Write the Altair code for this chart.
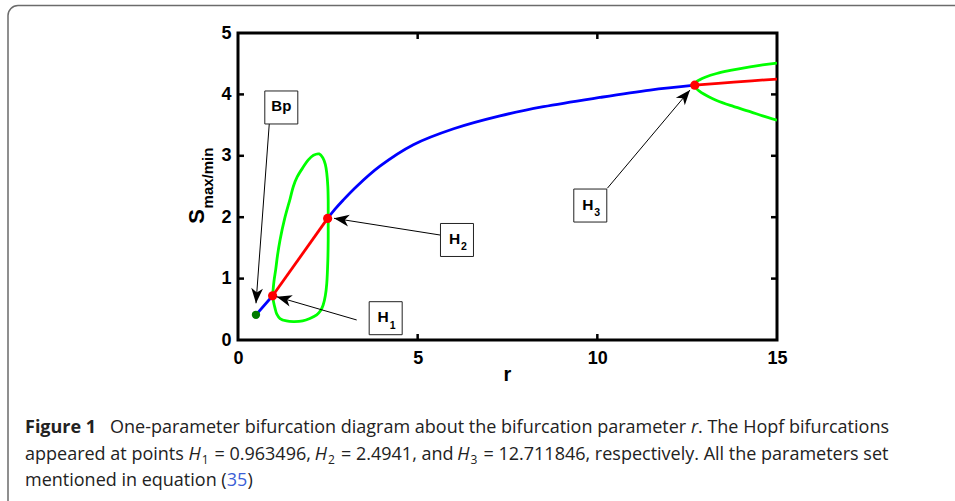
import math
import altair as alt
import pandas as pd

# ---------------- data ----------------
bp_r = [0.50]
bp_s = [0.41]
hopf_r = [0.963496, 2.4941, 12.711846]
hopf_s = [0.72, 1.98, 4.15]

# equilibrium branch pieces
stable_low_r = [0.50, 0.963496]
stable_low_s = [0.41, 0.72]
unstable_mid_r = [0.963496, 2.4941]
unstable_mid_s = [0.72, 1.98]
stable_high_r = [2.4941, 2.7, 2.93, 3.3, 3.95, 4.88, 6.0, 7.29, 8.5, 10.07, 11.47, 12.711846]
stable_high_s = [1.98, 2.13, 2.28, 2.50, 2.83, 3.18, 3.44, 3.65, 3.80, 3.95, 4.07, 4.15]
unstable_end_r = [12.711846, 13.8, 15.0]
unstable_end_s = [4.15, 4.20, 4.25]

# limit cycle between H1 and H2 (max branch then min branch)
loop_r = [0.963496, 1.0, 1.05, 1.10, 1.17, 1.30, 1.45, 1.54, 1.65, 1.82, 1.95, 2.10, 2.26, 2.36,
          2.43, 2.47, 2.50, 2.51, 2.51, 2.51, 2.50, 2.47, 2.43, 2.37, 2.30, 2.19, 2.0, 1.80,
          1.54, 1.35, 1.17, 1.08, 1.03, 0.99, 0.963496]
loop_s = [0.72, 0.95, 1.15, 1.38, 1.63, 1.98, 2.30, 2.50, 2.66, 2.82, 2.93, 3.01, 3.03, 2.97,
          2.86, 2.72, 2.50, 2.28, 1.98, 1.63, 1.30, 0.92, 0.72, 0.57, 0.48, 0.41, 0.35, 0.31,
          0.30, 0.31, 0.35, 0.42, 0.52, 0.62, 0.72]

# limit cycle born at H3
cyc_max_r = [12.711846, 12.75, 12.85, 13.0, 13.32, 13.7, 14.25, 14.6, 15.0]
cyc_max_s = [4.15, 4.20, 4.24, 4.28, 4.34, 4.39, 4.45, 4.48, 4.51]
cyc_min_r = [12.711846, 12.75, 12.85, 12.95, 13.1, 13.32, 13.7, 14.25, 14.6, 15.0]
cyc_min_s = [4.15, 4.10, 4.05, 4.01, 3.96, 3.90, 3.82, 3.72, 3.65, 3.58]

# annotations
ann_main = ["Bp", "H", "H", "H"]
ann_sub = ["", "1", "2", "3"]
box_r = [1.205, 4.110, 6.094, 9.804]
box_s = [3.787, 0.355, 1.629, 2.190]
arrow_from_r = [0.871, 3.303, 5.622, 10.278]
arrow_from_s = [3.529, 0.326, 1.710, 2.471]
arrow_to_r = [0.501, 1.077, 2.672, 12.579]
arrow_to_s = [0.598, 0.705, 1.982, 4.072]

x_ticks = [0, 5, 10, 15]
y_ticks = [0, 1, 2, 3, 4, 5]
x_inner_ticks = [5, 10]
y_inner_ticks = [1, 2, 3, 4]

# ---------------- layout ----------------
W, H = 539, 307
LEFT, TOP = 238, 33
AXFONT = "Liberation Sans"
CAPFONT = "Open Sans"

xscale = alt.Scale(domain=[0, 15], nice=False, zero=False)
yscale = alt.Scale(domain=[0, 5], nice=False, zero=False)
xaxis = alt.Axis(values=x_ticks, domain=False, ticks=False, tickSize=0, grid=False, title=None,
                 labelFont=AXFONT, labelFontSize=18, labelFontWeight="bold", labelColor="black",
                 labelPadding=9, labelFlush=False, labelOverlap=False)
yaxis = alt.Axis(values=y_ticks, domain=False, ticks=False, tickSize=0, grid=False, title=None,
                 labelFont=AXFONT, labelFontSize=18, labelFontWeight="bold", labelColor="black",
                 labelPadding=7, labelFlush=False, labelOverlap=False)
X = alt.X("r:Q", scale=xscale, axis=xaxis)
Y = alt.Y("s:Q", scale=yscale, axis=yaxis)

rows = []
def add(seg, col, rs, ss):
    for i, (a, b) in enumerate(zip(rs, ss)):
        rows.append({"seg": seg, "col": col, "i": i, "r": a, "s": b})

add("loop", "#00ff00", loop_r, loop_s)
add("cmax", "#00ff00", cyc_max_r, cyc_max_s)
add("cmin", "#00ff00", cyc_min_r, cyc_min_s)
add("st1", "#0000ff", stable_low_r, stable_low_s)
add("un1", "#ff0000", unstable_mid_r, unstable_mid_s)
add("st2", "#0000ff", stable_high_r, stable_high_s)
add("un2", "#ff0000", unstable_end_r, unstable_end_s)
lines_df = pd.DataFrame(rows)

lines = alt.Chart(lines_df).mark_line(strokeWidth=2.8, interpolate="catmull-rom", clip=True).encode(
    x=X, y=Y, detail="seg:N", order="i:Q", color=alt.Color("col:N", scale=None)
)

hopf_pts = alt.Chart(pd.DataFrame({"r": hopf_r, "s": hopf_s})).mark_circle(
    size=85, color="#ff0000", opacity=1).encode(x=X, y=Y)
bp_pts = alt.Chart(pd.DataFrame({"r": bp_r, "s": bp_s})).mark_circle(
    size=70, color="#007a00", opacity=1).encode(x=X, y=Y)

# arrows
pxr, pxs = W / 15.0, H / 5.0
angles = [math.degrees(math.atan2((tr - fr) * pxr, (ts - fs) * pxs)) % 360
          for fr, fs, tr, ts in zip(arrow_from_r, arrow_from_s, arrow_to_r, arrow_to_s)]
arrow_df = pd.DataFrame({"r": arrow_from_r, "s": arrow_from_s, "r2": arrow_to_r,
                         "s2": arrow_to_s, "ang": angles})
arrow_lines = alt.Chart(arrow_df).mark_rule(color="black", strokeWidth=1).encode(
    x=X, y=Y, x2="r2:Q", y2="s2:Q")
heads = alt.Chart(arrow_df).mark_point(
    shape="M0,0L-0.7,1.8L0,1.3L0.7,1.8Z", filled=True, color="black", size=280, opacity=1
).encode(x=alt.X("r2:Q", scale=xscale, axis=xaxis), y=alt.Y("s2:Q", scale=yscale, axis=yaxis),
         angle=alt.Angle("ang:Q", scale=None))

box_df = pd.DataFrame({"r": box_r, "s": box_s, "m": ann_main, "sub": ann_sub})
boxes = alt.Chart(box_df).mark_point(shape="square", size=1089, filled=True, fill="white",
                                     stroke="#222", strokeWidth=1, opacity=1).encode(x=X, y=Y)
bp_txt = alt.Chart(box_df.iloc[:1]).mark_text(font=AXFONT, fontWeight="bold", fontSize=15,
                                              align="center", baseline="alphabetic", dy=4,
                                              color="black").encode(x=X, y=Y, text="m:N")
h_txt = alt.Chart(box_df.iloc[1:]).mark_text(font=AXFONT, fontWeight="bold", fontSize=15.5,
                                             align="center", baseline="alphabetic", dx=-2.5, dy=4,
                                             color="black").encode(x=X, y=Y, text="m:N")
h_sub = alt.Chart(box_df.iloc[1:]).mark_text(font=AXFONT, fontWeight="bold", fontSize=10.5,
                                             align="center", baseline="alphabetic", dx=7, dy=10.5,
                                             color="black").encode(x=X, y=Y, text="sub:N")

# inner ticks (box style)
xt = pd.DataFrame({"r": x_inner_ticks})
yt = pd.DataFrame({"s": y_inner_ticks})
tk = dict(color="black", strokeWidth=2.5)
ticks = [
    alt.Chart(xt).mark_rule(**tk).encode(x=X, y=alt.value(H), y2=alt.value(H - 6)),
    alt.Chart(xt).mark_rule(**tk).encode(x=X, y=alt.value(0), y2=alt.value(6)),
    alt.Chart(yt).mark_rule(**tk).encode(y=Y, x=alt.value(0), x2=alt.value(6)),
    alt.Chart(yt).mark_rule(**tk).encode(y=Y, x=alt.value(W - 6), x2=alt.value(W)),
]

one = pd.DataFrame({"k": [0]})

def txt(t, x, y, size, weight="normal", style="normal", font=AXFONT, color="black",
        angle=0, align="left"):
    kw = dict(text=t, font=font, fontSize=size, fontWeight=weight, fontStyle=style,
              color=color, align=align, baseline="alphabetic")
    if angle:
        kw["angle"] = angle
    return alt.Chart(one).mark_text(**kw).encode(x=alt.value(x), y=alt.value(y))

titles = [
    txt("S", 204 - LEFT, 216.5 - TOP, 22, weight="bold", angle=270, align="center"),
    txt("max/min", 213 - LEFT, 178 - TOP, 15, weight="bold", angle=270, align="center"),
    txt("r", 507.5 - LEFT, 381 - TOP, 20, weight="bold", align="center"),
]

frame = alt.Chart(one).mark_rect(fill=None, stroke="#6b6b6b", strokeWidth=1.5, cornerRadius=10).encode(
    x=alt.value(8 - LEFT), x2=alt.value(1000), y=alt.value(5.5 - TOP), y2=alt.value(560))

# caption
CS = 18
CC = "#222222"
l1, l2, l3 = 433 - TOP, 460 - TOP, 486 - TOP
cap = [
    txt("Figure 1", 25 - LEFT, l1, CS, weight="bold", font=CAPFONT, color=CC),
    txt("One-parameter bifurcation diagram about the bifurcation parameter", 110 - LEFT, l1, CS,
        font=CAPFONT, color=CC),
    txt("r", 691 - LEFT, l1, CS, style="italic", font=CAPFONT, color=CC),
    txt(". The Hopf bifurcations", 698 - LEFT, l1, CS, font=CAPFONT, color=CC),
    txt("appeared at points", 25 - LEFT, l2, CS, font=CAPFONT, color=CC),
    txt("H", 188.5 - LEFT, l2, CS, style="italic", font=CAPFONT, color=CC),
    txt("1", 201.8 - LEFT, l2 + 4, 12, font=CAPFONT, color=CC),
    txt("= 0.963496,", 214.5 - LEFT, l2, CS, font=CAPFONT, color=CC),
    txt("H", 314.8 - LEFT, l2, CS, style="italic", font=CAPFONT, color=CC),
    txt("2", 328.1 - LEFT, l2 + 4, 12, font=CAPFONT, color=CC),
    txt("= 2.4941, and", 341 - LEFT, l2, CS, font=CAPFONT, color=CC),
    txt("H", 457.3 - LEFT, l2, CS, style="italic", font=CAPFONT, color=CC),
    txt("3", 470.6 - LEFT, l2 + 4, 12, font=CAPFONT, color=CC),
    txt("= 12.711846, respectively. All the parameters set", 483.5 - LEFT, l2, CS,
        font=CAPFONT, color=CC),
    txt("mentioned in equation (", 25 - LEFT, l3, CS, font=CAPFONT, color=CC),
    txt("35", 226.8 - LEFT, l3, CS, font=CAPFONT, color="#3b5fd6"),
    txt(")", 247.4 - LEFT, l3, CS, font=CAPFONT, color=CC),
]

chart = alt.layer(
    frame, lines, bp_pts, hopf_pts, arrow_lines, heads, boxes, bp_txt, h_txt, h_sub,
    *ticks, *titles, *cap
).properties(
    width=W, height=H,
    padding={"left": LEFT, "top": TOP, "right": 955 - LEFT - W, "bottom": 501 - TOP - H},
    autosize=alt.AutoSizeParams(type="none"),
    background="white",
).configure_view(stroke="black", strokeWidth=3)

chart.save("out.html", embed_options={"renderer": "svg", "actions": False})
